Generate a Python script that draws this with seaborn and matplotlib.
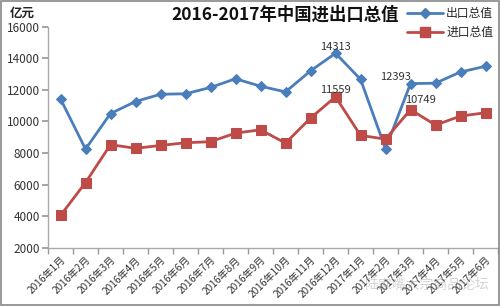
import matplotlib
matplotlib.use("Agg")
import matplotlib.pyplot as plt
import seaborn as sns
import pandas as pd
import numpy as np
from matplotlib.lines import Line2D

months = ["2016年1月", "2016年2月", "2016年3月", "2016年4月", "2016年5月", "2016年6月",
          "2016年7月", "2016年8月", "2016年9月", "2016年10月", "2016年11月", "2016年12月",
          "2017年1月", "2017年2月", "2017年3月", "2017年4月", "2017年5月", "2017年6月"]
exports = [11430, 8250, 10500, 11260, 11720, 11750, 12150, 12700, 12230,
           11870, 13200, 14313, 12670, 8270, 12393, 12420, 13130, 13490]
imports = [4050, 6130, 8530, 8300, 8480, 8650, 8720, 9260, 9470,
           8630, 10210, 11559, 9120, 8880, 10749, 9770, 10340, 10550]
series_names = ["出口总值", "进口总值"]
y_ticks = [2000, 4000, 6000, 8000, 10000, 12000, 14000, 16000]

sns.set_theme(style="white")
plt.rcParams['font.family'] = ['Noto Sans CJK SC', 'DejaVu Sans']

df = pd.DataFrame({
    "idx": list(range(len(months))) * 2,
    "value": exports + imports,
    "series": [series_names[0]] * len(months) + [series_names[1]] * len(months),
})

fig = plt.figure(figsize=(5.0, 3.06), dpi=100)
ax = fig.add_axes([0.096, 0.19, 0.9, 0.723])

palette = {"出口总值": "#4a7ebb", "进口总值": "#be4b48"}
sns.lineplot(data=df, x="idx", y="value", hue="series", style="series",
             markers={"出口总值": "D", "进口总值": "s"}, dashes=False,
             palette=palette, linewidth=2, ax=ax, legend=False)
for line, ms in zip(ax.lines, [5, 7]):
    line.set_markersize(ms)
    line.set_markeredgecolor(line.get_color())

ax.set_xlim(-0.5, len(months) - 0.5)
ax.set_ylim(2000, 16000)
ax.set_yticks(y_ticks)
ax.set_yticklabels([str(v) for v in y_ticks], fontsize=8.5, color="#333333")
ax.set_xticks(range(len(months)))
ax.set_xticklabels(months, rotation=45, ha="right", rotation_mode="anchor", fontsize=7.3, color="#333333")
ax.set_xticks(np.arange(-0.5, len(months), 1), minor=True)
ax.tick_params(axis="x", which="major", length=0, pad=5)
ax.tick_params(axis="x", which="minor", length=4, color="#999999", direction="out", bottom=True)
ax.tick_params(axis="y", length=4, color="#999999", direction="out", left=True, pad=2)
ax.set_xlabel("")
ax.set_ylabel("")
for s in ["top", "right"]:
    ax.spines[s].set_visible(False)
for s in ["left", "bottom"]:
    ax.spines[s].set_color("#aaaaaa")
    ax.spines[s].set_linewidth(1)

# data labels
ax.annotate(str(exports[11]), (11, exports[11]), xytext=(0, 1), textcoords="offset points",
            ha="center", va="bottom", fontsize=8, color="#333333")
ax.annotate(str(imports[11]), (11, imports[11]), xytext=(0, 1), textcoords="offset points",
            ha="center", va="bottom", fontsize=8, color="#333333")
ax.annotate(str(exports[14]), (14, exports[14]), xytext=(0, 1), textcoords="offset points",
            ha="right", va="bottom", fontsize=8, color="#333333")
ax.annotate(str(imports[14]), (14, imports[14]), xytext=(-4, 3), textcoords="offset points",
            ha="left", va="bottom", fontsize=8, color="#333333")

fig.text(0.57, 0.952, "2016-2017年中国进出口总值", ha="center", va="center",
         fontsize=12.5, fontweight="bold", color="#111111")
fig.text(0.02, 0.955, "亿元", ha="left", va="center", fontsize=9, fontweight="bold", color="#222222")

# legend
handles = [Line2D([], [], color=palette[n], marker=m, markersize=ms, linewidth=2,
                  markeredgecolor=palette[n]) for n, m, ms in zip(series_names, ["D", "s"], [5, 7])]
fig.legend(handles, series_names, loc="upper left", bbox_to_anchor=(0.80, 1.0),
           frameon=False, fontsize=8.5, handlelength=3.0, handletextpad=0.3,
           labelspacing=0.5, borderaxespad=0.2)

fig.text(0.98, 0.07, "陆家嘴大宗商品论坛", ha="right", va="center", fontsize=10,
         color="#888888", alpha=0.35)

fig.patches.append(plt.Rectangle((0.002, 0.003), 0.996, 0.994, transform=fig.transFigure,
                                 fill=False, edgecolor="#888888", linewidth=1.2))

fig.savefig("out.png", dpi=100)
